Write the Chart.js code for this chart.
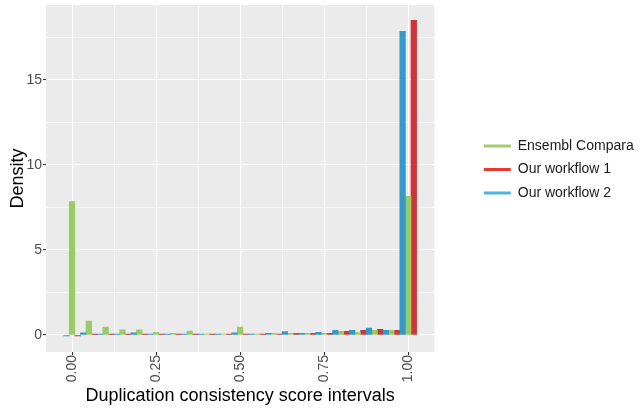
<!DOCTYPE html>
<html>
<head>
<meta charset="utf-8">
<script src="https://cdn.jsdelivr.net/npm/chart.js@4"></script>
<style>
  html, body { margin: 0; background: #fff; }
  canvas { display: block; }
</style>
</head>
<body>
<canvas id="chart" width="640" height="411"></canvas>
<script>
// bin centres (width 0.05) and densities
const bins = [0, 0.05, 0.1, 0.15, 0.2, 0.25, 0.3, 0.35, 0.4, 0.45, 0.5, 0.55, 0.6, 0.65, 0.7, 0.75, 0.8, 0.85, 0.9, 0.95, 1];
const ensembl   = [7.84, 0.82, 0.47, 0.3, 0.3, 0.16, 0.1, 0.23, 0.05, 0.05, 0.46, 0.05, 0.1, 0.1, 0.1, 0.1, 0.22, 0.14, 0.27, 0.27, 8.15];
const workflow1 = [-0.05, 0.05, 0.05, 0.05, 0.05, 0.05, 0.05, 0.05, 0.05, 0.05, 0.05, 0.05, 0.05, 0.1, 0.1, 0.1, 0.22, 0.27, 0.33, 0.27, 18.5];
const workflow2 = [-0.05, 0.12, 0.05, 0.05, 0.12, 0.05, 0.05, 0.05, 0.05, 0.05, 0.12, 0.05, 0.1, 0.2, 0.1, 0.15, 0.27, 0.27, 0.4, 0.27, 17.85];

const xTicks = [0, 0.125, 0.25, 0.375, 0.5, 0.625, 0.75, 0.875, 1];
const xLabeled = [0, 0.25, 0.5, 0.75, 1];
const yTicks = [0, 2.5, 5, 7.5, 10, 12.5, 15, 17.5];
const yLabeled = [0, 5, 10, 15];

const legendOrder = ['Ensembl Compara', 'Our workflow 1', 'Our workflow 2'];
const keyColors = { 'Ensembl Compara': '#A6CA6E', 'Our workflow 1': '#E8392E', 'Our workflow 2': '#4DB6D8' };

const FONT = "'Liberation Sans', Arial, sans-serif";

// grey ggplot panel
const panelBg = {
  id: 'panelBg',
  beforeDraw(chart) {
    const { ctx, chartArea: a } = chart;
    ctx.save();
    ctx.fillStyle = '#fff';
    ctx.fillRect(0, 0, chart.width, chart.height);
    ctx.fillStyle = '#EBEBEB';
    ctx.fillRect(a.left, a.top, a.right - a.left, a.bottom - a.top);
    ctx.restore();
  }
};

// nudge the legend to where ggplot puts it
const legendNudge = {
  id: 'legendNudge',
  afterLayout(chart) {
    const lg = chart.legend;
    if (!lg) return;
    lg.left += 40;
    lg.right = chart.width;
    lg.top -= 9; lg.bottom -= 9;
  }
};

function gridFor(labeled) {
  return {
    color: '#fff',
    lineWidth: ctx => (ctx.tick && labeled.includes(ctx.tick.value)) ? 1.1 : 0.55,
    tickColor: ctx => (ctx.tick && labeled.includes(ctx.tick.value)) ? '#333' : 'rgba(0,0,0,0)',
    tickLength: 3,
    tickWidth: 1.1
  };
}

const series = (vals) => bins.map((x, i) => ({ x, y: vals[i] }));

new Chart(document.getElementById('chart'), {
  type: 'bar',
  data: {
    datasets: [
      { label: 'Our workflow 2', data: series(workflow2), backgroundColor: '#3399CC' },
      { label: 'Ensembl Compara', data: series(ensembl), backgroundColor: '#99CC66' },
      { label: 'Our workflow 1', data: series(workflow1), backgroundColor: '#CF3538' }
    ]
  },
  options: {
    responsive: false,
    animation: false,
    devicePixelRatio: 1,
    datasets: { bar: { barPercentage: 1, categoryPercentage: 1, borderWidth: 0 } },
    layout: { padding: { top: 5, right: 61, left: 0, bottom: 0 } },
    plugins: {
      tooltip: { enabled: false },
      legend: {
        position: 'right',
        fullSize: false,
        labels: {
          boxWidth: 27,
          boxHeight: 3,
          padding: 9.5,
          color: '#1a1a1a',
          font: { family: FONT, size: 14 },
          generateLabels(chart) {
            const items = Chart.defaults.plugins.legend.labels.generateLabels(chart);
            items.forEach(it => {
              it.fillStyle = keyColors[it.text];
              it.strokeStyle = keyColors[it.text];
              it.lineWidth = 0;
            });
            return items.sort((a, b) => legendOrder.indexOf(a.text) - legendOrder.indexOf(b.text));
          }
        }
      }
    },
    scales: {
      x: {
        type: 'linear',
        min: -0.0775,
        max: 1.0775,
        offset: false,
        border: { display: false },
        grid: Object.assign({ offset: false }, gridFor(xLabeled)),
        afterBuildTicks: scale => { scale.ticks = xTicks.map(v => ({ value: v })); },
        afterFit: scale => { scale.height = 59; scale.paddingLeft = 0; scale.paddingRight = 0; },
        ticks: {
          autoSkip: false,
          minRotation: 90,
          maxRotation: 90,
          padding: 0,
          color: '#4D4D4D',
          font: { family: FONT, size: 14 },
          callback: v => xLabeled.includes(v) ? v.toFixed(2) : ''
        },
        title: {
          display: true,
          text: 'Duplication consistency score intervals',
          color: '#000',
          font: { family: FONT, size: 18 },
          padding: { top: 0, bottom: 4 }
        }
      },
      y: {
        min: -1.0,
        max: 19.4,
        border: { display: false },
        grid: gridFor(yLabeled),
        afterBuildTicks: scale => { scale.ticks = yTicks.map(v => ({ value: v })); },
        afterFit: scale => { scale.width = 46; scale.paddingTop = 0; scale.paddingBottom = 0; },
        ticks: {
          padding: 1,
          color: '#4D4D4D',
          font: { family: FONT, size: 14 },
          callback: v => yLabeled.includes(v) ? String(v) : ''
        },
        title: {
          display: true,
          text: 'Density',
          color: '#000',
          font: { family: FONT, size: 18 },
          padding: { top: 7, bottom: 0 }
        }
      }
    }
  },
  plugins: [panelBg, legendNudge]
});
</script>
</body>
</html>
